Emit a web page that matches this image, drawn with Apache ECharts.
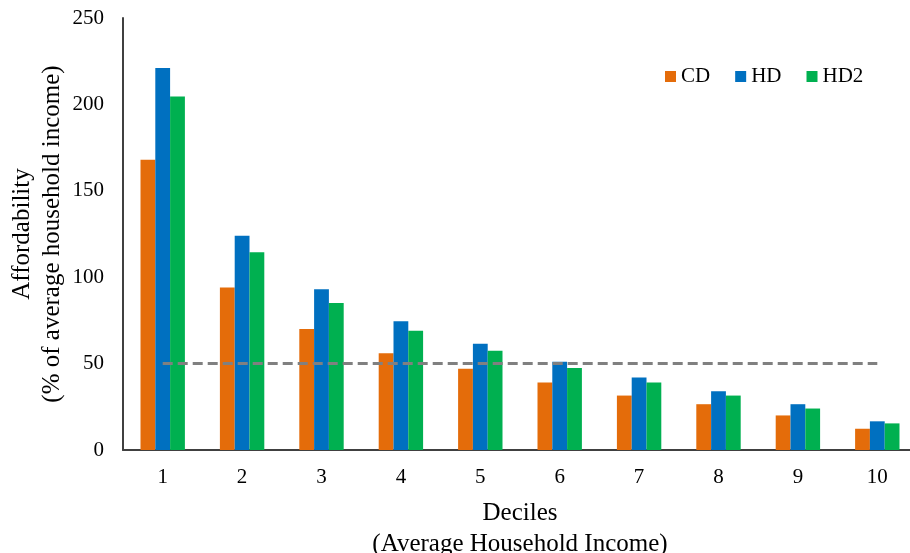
<!DOCTYPE html>
<html>
<head>
<meta charset="utf-8">
<script src="https://cdn.jsdelivr.net/npm/echarts@6/dist/echarts.min.js"></script>
<style>
  html, body { margin: 0; padding: 0; background: #fff; }
  #chart { width: 910px; height: 553px; }
</style>
</head>
<body>
<div id="chart"></div>
<script>
// Affordability by income decile for three scenarios
const deciles = ['1', '2', '3', '4', '5', '6', '7', '8', '9', '10'];
const cdValues  = [168, 94, 70, 56, 47, 39, 31.5, 26.5, 20, 12.3];
const hdValues  = [221, 124, 93, 74.5, 61.5, 51, 42, 34, 26.5, 16.6];
const hd2Values = [204.5, 114.5, 85, 69, 57.5, 47.5, 39, 31.5, 24, 15.4];
const threshold = 50;
const yTicks = { min: 0, max: 250, interval: 50 };

const serif = '"Liberation Serif", "DejaVu Serif", serif';
const colors = { cd: '#E46C0A', hd: '#0070C0', hd2: '#00B050' };

const chart = echarts.init(document.getElementById('chart'), null, { renderer: 'canvas' });

function barSeries(name, data, color) {
  return {
    name: name,
    type: 'bar',
    data: data,
    barWidth: 14.8,
    barGap: '0%',
    itemStyle: { color: color },
    emphasis: { disabled: true }
  };
}

const series = [
  barSeries('CD', cdValues, colors.cd),
  barSeries('HD', hdValues, colors.hd),
  barSeries('HD2', hd2Values, colors.hd2)
];

// dashed reference line at the threshold, from the first to the last decile;
// attached to the middle bar so its ends sit on the category centres
series[1].markLine = {
  silent: true,
  symbol: ['none', 'none'],
  label: { show: false },
  lineStyle: { color: '#808080', type: [10, 5], width: 3 },
  data: [[
    { coord: [deciles[0], threshold] },
    { coord: [deciles[deciles.length - 1], threshold] }
  ]]
};

chart.setOption({
  animation: false,
  backgroundColor: '#ffffff',
  textStyle: { fontFamily: serif },
  grid: {
    left: 123, top: 18, width: 794, height: 432,
    containLabel: false,
    outerBoundsMode: 'none'
  },
  legend: {
    data: ['CD', 'HD', 'HD2'],
    left: 660,
    top: 61,
    itemWidth: 11,
    itemHeight: 11,
    itemGap: 25,
    icon: 'rect',
    textStyle: { fontFamily: serif, fontSize: 21, color: '#000' }
  },
  xAxis: {
    type: 'category',
    data: deciles,
    name: 'Deciles\n(Average Household Income)',
    nameLocation: 'middle',
    nameGap: 48,
    nameMoveOverlap: false,
    nameTextStyle: { fontFamily: serif, fontSize: 25, color: '#000', lineHeight: 31 },
    axisLine: { show: true, lineStyle: { color: '#404040', width: 2 } },
    axisTick: { show: false },
    axisLabel: { fontFamily: serif, fontSize: 21, color: '#000', margin: 17 },
    splitLine: { show: false }
  },
  yAxis: {
    type: 'value',
    min: yTicks.min,
    max: yTicks.max,
    interval: yTicks.interval,
    name: 'Affordability\n(% of average household income)',
    nameLocation: 'middle',
    nameGap: 56,
    nameMoveOverlap: false,
    nameTextStyle: { fontFamily: serif, fontSize: 25, color: '#000', lineHeight: 30 },
    axisLine: { show: true, lineStyle: { color: '#404040', width: 2 } },
    axisTick: { show: false },
    axisLabel: { fontFamily: serif, fontSize: 21, color: '#000', margin: 19 },
    splitLine: { show: false }
  },
  series: series
});
</script>
</body>
</html>
